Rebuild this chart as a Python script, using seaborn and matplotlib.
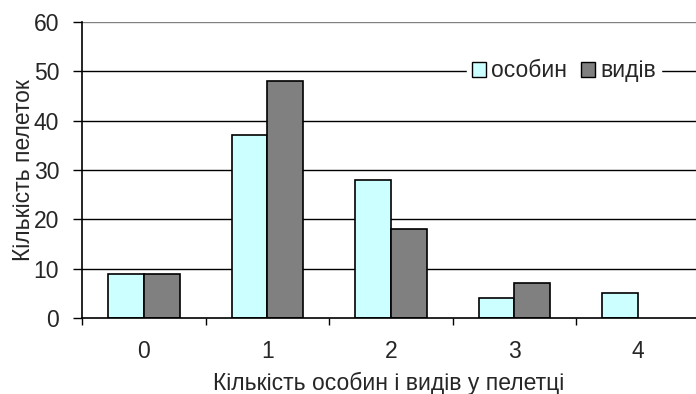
import matplotlib
matplotlib.use("Agg")
import matplotlib.pyplot as plt
import seaborn as sns
import pandas as pd
from matplotlib.ticker import FixedLocator

categories = ["0", "1", "2", "3", "4"]
osobyn = [9, 37, 28, 4, 5]
vydiv = [9, 48, 18, 7, 0]
series_names = ["особин", "видів"]
yticks = [0, 10, 20, 30, 40, 50, 60]

df = pd.DataFrame({
    "cat": categories * 2,
    "val": osobyn + vydiv,
    "ser": [series_names[0]] * 5 + [series_names[1]] * 5,
})

sns.set_style("white")
plt.rcParams['font.family'] = ['Liberation Sans', 'DejaVu Sans']

FS = 16.5

fig = plt.figure(figsize=(6.96, 3.94), dpi=100)
ax = fig.add_axes([0.118, 0.193, 0.882, 0.751])

for y in yticks[1:]:
    ax.axhline(y, color='#808080' if y == 60 else 'black', lw=1, zorder=0)

sns.barplot(data=df, x="cat", y="val", hue="ser", order=categories,
            hue_order=series_names, palette=["#CCFFFF", "#808080"],
            edgecolor="black", linewidth=1.2, width=0.58, gap=0, ax=ax,
            saturation=1, zorder=2)

for p in ax.patches:
    if p.get_height() == 0:
        p.set_linewidth(0)

ax.set_ylim(0, 60)
ax.set_xlim(-0.5, 4.47)
ax.set_yticks(yticks)
ax.set_yticklabels([str(v) for v in yticks], fontsize=FS)
ax.set_xticklabels(categories, fontsize=FS)
ax.tick_params(axis='x', which='major', length=0, pad=16)
ax.xaxis.set_minor_locator(FixedLocator([-0.5, 0.5, 1.5, 2.5, 3.5]))
ax.tick_params(axis='x', which='minor', length=5, width=1, color='black', direction='out', bottom=True)
ax.tick_params(axis='y', length=6.5, width=1, color='black', direction='out', left=True, pad=10)

for s in ['top', 'right']:
    ax.spines[s].set_visible(False)
for s in ['left', 'bottom']:
    ax.spines[s].set_color('black')
    ax.spines[s].set_linewidth(1.2)

ax.set_xlabel("Кількість особин і видів у пелетці", fontsize=FS, labelpad=6)
ax.set_ylabel("Кількість пелеток", fontsize=FS, labelpad=-1)

leg = ax.legend(loc='center', bbox_to_anchor=(0.785, 0.835), ncol=2, frameon=True,
                fontsize=FS, handlelength=0.6, handleheight=0.6, handletextpad=0.25,
                columnspacing=0.6, borderpad=0.2, fancybox=False, title=None)
leg.get_frame().set_facecolor('white')
leg.get_frame().set_edgecolor('white')
leg.get_frame().set_alpha(1)
for h in leg.legend_handles:
    h.set_linewidth(1)

fig.savefig("out.png", dpi=100)
